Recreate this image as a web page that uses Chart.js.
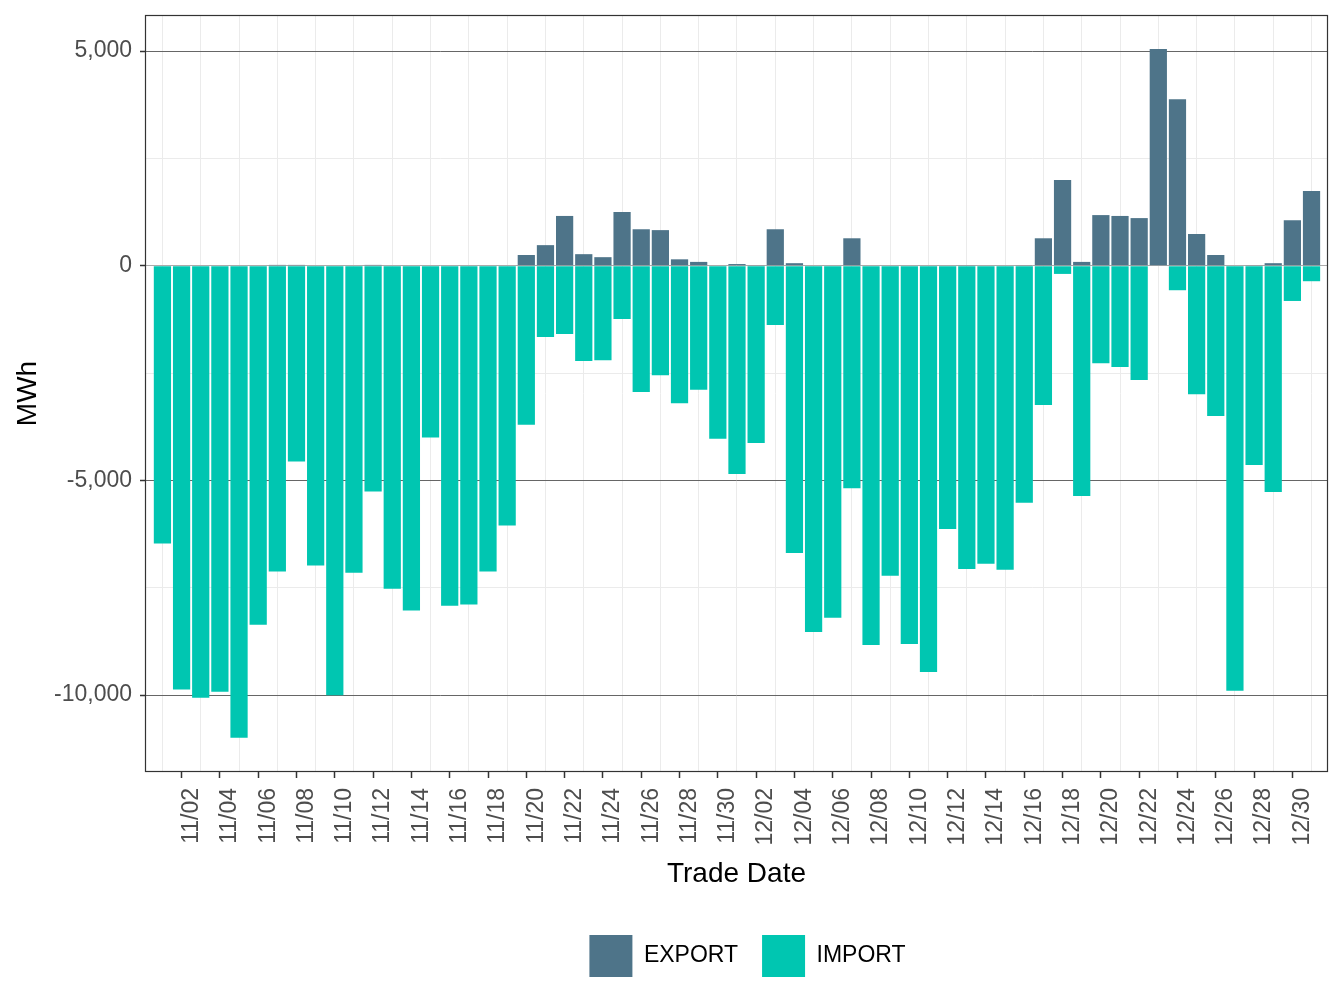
<!DOCTYPE html>
<html>
<head>
<meta charset="utf-8">
<script src="https://cdn.jsdelivr.net/npm/chart.js@4.4.1/dist/chart.umd.min.js"></script>
<style>
    html, body { margin: 0; padding: 0; background: #fff; }
    #wrap { width: 1344px; height: 1008px; }
</style>
</head>
<body>
<div id="wrap"><canvas id="chart" width="1344" height="1008"></canvas></div>
<script>
// Trade dates 11/01 .. 12/31, only every other one gets a label
const tradeDates = [
    '11/01', '11/02', '11/03', '11/04', '11/05', '11/06', '11/07', '11/08', '11/09', '11/10',
    '11/11', '11/12', '11/13', '11/14', '11/15', '11/16', '11/17', '11/18', '11/19', '11/20',
    '11/21', '11/22', '11/23', '11/24', '11/25', '11/26', '11/27', '11/28', '11/29', '11/30',
    '12/01', '12/02', '12/03', '12/04', '12/05', '12/06', '12/07', '12/08', '12/09', '12/10',
    '12/11', '12/12', '12/13', '12/14', '12/15', '12/16', '12/17', '12/18', '12/19', '12/20',
    '12/21', '12/22', '12/23', '12/24', '12/25', '12/26', '12/27', '12/28', '12/29', '12/30',
    '12/31'
];

const exportMWh = [
    0, 0, 0, 0, 0, 0, 20, 20, 0, 0,
    0, 20, 0, 0, 0, 0, 0, 0, 0, 250,
    480, 1160, 270, 200, 1250, 850, 830, 150, 90, 0,
    40, 15, 850, 60, 0, 0, 640, 0, 0, 0,
    0, 0, 15, 0, 0, 15, 640, 2000, 90, 1180,
    1160, 1110, 5050, 3880, 740, 250, 0, 15, 60, 1060,
    1740
];

const importMWh = [
    -6470, -9870, -10060, -9920, -10990, -8360, -7120, -4560, -6980, -10000,
    -7150, -5260, -7520, -8030, -4000, -7920, -7890, -7120, -6050, -3700,
    -1660, -1590, -2220, -2200, -1240, -2940, -2550, -3200, -2890, -4030,
    -4850, -4130, -1380, -6690, -8530, -8200, -5180, -8830, -7220, -8810,
    -9460, -6130, -7060, -6940, -7080, -5520, -3240, -190, -5360, -2270,
    -2360, -2660, 0, -570, -2990, -3500, -9900, -4640, -5270, -820,
    -360
];

// major (labelled) every 5000, minor in between
const yTickValues = [-10000, -7500, -5000, -2500, 0, 2500, 5000];

const COLORS = {
    export: '#4e7489',
    import: '#00c6b1',
    minorGrid: '#ebebeb',
    majorGrid: '#666666',
    zeroLine: '#ababab',
    axisText: '#4d4d4d',
    border: '#333333',
};

Chart.defaults.font.family = "'Liberation Sans', Arial, sans-serif";
Chart.defaults.devicePixelRatio = 1;

const NONE = 'rgba(0,0,0,0)';

// ggplot-ish panel border around the plotting area
const panelBorder = {
    id: 'panelBorder',
    afterDatasetsDraw(chart) {
        const { ctx, chartArea: a } = chart;
        ctx.save();
        ctx.strokeStyle = COLORS.border;
        ctx.lineWidth = 1.2;
        ctx.strokeRect(Math.round(a.left) + 0.5, Math.round(a.top) + 0.5,
            Math.round(a.width) - 1, Math.round(a.height) - 1);
        ctx.restore();
    }
};

// legend sits a bit right of the panel centre in the original
const legendNudge = {
    id: 'legendNudge',
    afterLayout(chart) {
        if (!chart.legend) return;
        chart.legend.left += 11;
        chart.legend.right += 11;
    }
};

const toPoints = (vals) => vals.map((v, i) => ({ x: i, y: v }));

new Chart(document.getElementById('chart'), {
    type: 'bar',
    data: {
        datasets: [
            {
                label: 'EXPORT',
                data: toPoints(exportMWh),
                backgroundColor: COLORS.export,
                borderWidth: 0,
                barPercentage: 0.9,
                categoryPercentage: 1,
            },
            {
                label: 'IMPORT',
                data: toPoints(importMWh),
                backgroundColor: COLORS.import,
                borderWidth: 0,
                barPercentage: 0.9,
                categoryPercentage: 1,
            },
        ]
    },
    options: {
        responsive: false,
        animation: false,
        layout: { padding: { top: 15, right: 16, left: 0, bottom: 21 } },
        plugins: {
            tooltip: { enabled: false },
            legend: {
                position: 'bottom',
                fullSize: false,
                labels: {
                    color: '#000',
                    font: { size: 23 },
                    boxWidth: 43,
                    boxHeight: 42,
                    padding: 24,
                }
            }
        },
        scales: {
            x: {
                type: 'linear',
                stacked: true,
                offset: false,
                min: -0.91,
                max: 60.86,
                afterBuildTicks: (s) => { s.ticks = tradeDates.map((_, i) => ({ value: i })); },
                afterFit: (s) => { s.height = 139; s.paddingLeft = 0; s.paddingRight = 0; },
                ticks: {
                    autoSkip: false,
                    minRotation: 90,
                    maxRotation: 90,
                    padding: 10,
                    labelOffset: 10,
                    color: COLORS.axisText,
                    font: { size: 23 },
                    callback: (v) => (v % 2 === 1 ? tradeDates[v] : ''),
                },
                grid: {
                    offset: false,
                    color: (c) => (c.tick && c.tick.value % 2 === 0 ? COLORS.minorGrid : NONE),
                    tickColor: (c) => (c.tick && c.tick.value % 2 === 1 ? COLORS.border : NONE),
                    tickLength: 6,
                    tickWidth: 1.5,
                },
                border: { display: false },
                title: {
                    display: true,
                    text: 'Trade Date',
                    color: '#000',
                    font: { size: 28 },
                    padding: { top: 4, bottom: 20 },
                }
            },
            y: {
                stacked: true,
                min: -11790,
                max: 5840,
                afterBuildTicks: (s) => { s.ticks = yTickValues.map((v) => ({ value: v })); },
                afterFit: (s) => { s.width = 145; s.paddingTop = 0; s.paddingBottom = 0; },
                ticks: {
                    color: COLORS.axisText,
                    font: { size: 23 },
                    padding: 8,
                    callback: (v) => (v % 5000 === 0 ? v.toLocaleString('en-US') : ''),
                },
                grid: {
                    color: (c) => {
                        const v = c.tick ? c.tick.value : 1;
                        if (v === 0) return COLORS.zeroLine;
                        return v % 5000 === 0 ? COLORS.majorGrid : COLORS.minorGrid;
                    },
                    tickColor: (c) => (c.tick && c.tick.value % 5000 === 0 ? COLORS.border : NONE),
                    tickLength: 5,
                    tickWidth: 1.5,
                },
                border: { display: false },
                title: {
                    display: true,
                    text: 'MWh',
                    color: '#000',
                    font: { size: 28 },
                    padding: { top: 11, bottom: 0 },
                }
            }
        }
    },
    plugins: [panelBorder, legendNudge]
});
</script>
</body>
</html>
